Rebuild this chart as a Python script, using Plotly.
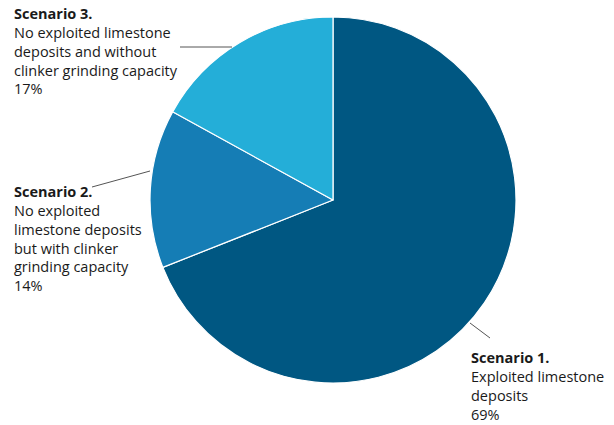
import plotly.graph_objects as go

W, H = 614, 425

labels = ["Scenario 1.", "Scenario 2.", "Scenario 3."]
descriptions = [
    "Exploited limestone<br>deposits",
    "No exploited<br>limestone deposits<br>but with clinker<br>grinding capacity",
    "No exploited limestone<br>deposits and without<br>clinker grinding capacity",
]
values = [69, 14, 17]
colors = ["#005782", "#157db5", "#24aed8"]

def px(x):
    return x / W

def py(y):
    return 1 - y / H

fig = go.Figure(go.Pie(
    labels=labels,
    values=values,
    sort=False,
    direction="clockwise",
    rotation=0,
    marker=dict(colors=colors, line=dict(color="white", width=1.2)),
    textinfo="none",
    hoverinfo="label+percent",
    showlegend=False,
    domain=dict(x=[px(150), px(516)], y=[py(383), py(17)]),
))

FONT = "Open Sans"
label_pos = [(470, 347), (13, 181), (13, 3)]
leader = [((470, 323), (490, 338)), ((150, 171), (92, 187)), ((232, 47), (180, 47))]

annotations = []
shapes = []
for i in range(len(labels)):
    txt = f"<b>{labels[i]}</b><br>{descriptions[i]}<br>{values[i]}%"
    x, y = label_pos[i]
    annotations.append(dict(
        x=px(x), y=py(y), xref="paper", yref="paper",
        xanchor="left", yanchor="top", align="left",
        text=txt, showarrow=False, borderpad=0,
        font=dict(family=FONT, size=14.5, color="#1a1a1a"),
    ))
    (x0, y0), (x1, y1) = leader[i]
    shapes.append(dict(
        type="line", xref="paper", yref="paper",
        x0=px(x0), y0=py(y0), x1=px(x1), y1=py(y1),
        line=dict(color="#555555", width=1),
    ))

fig.update_layout(
    width=W, height=H,
    margin=dict(l=0, r=0, t=0, b=0),
    paper_bgcolor="white",
    plot_bgcolor="white",
    annotations=annotations,
    shapes=shapes,
)

fig.write_html(
    "out.html",
    config={"displayModeBar": False},
    post_script="document.body.style.margin='0';",
)
